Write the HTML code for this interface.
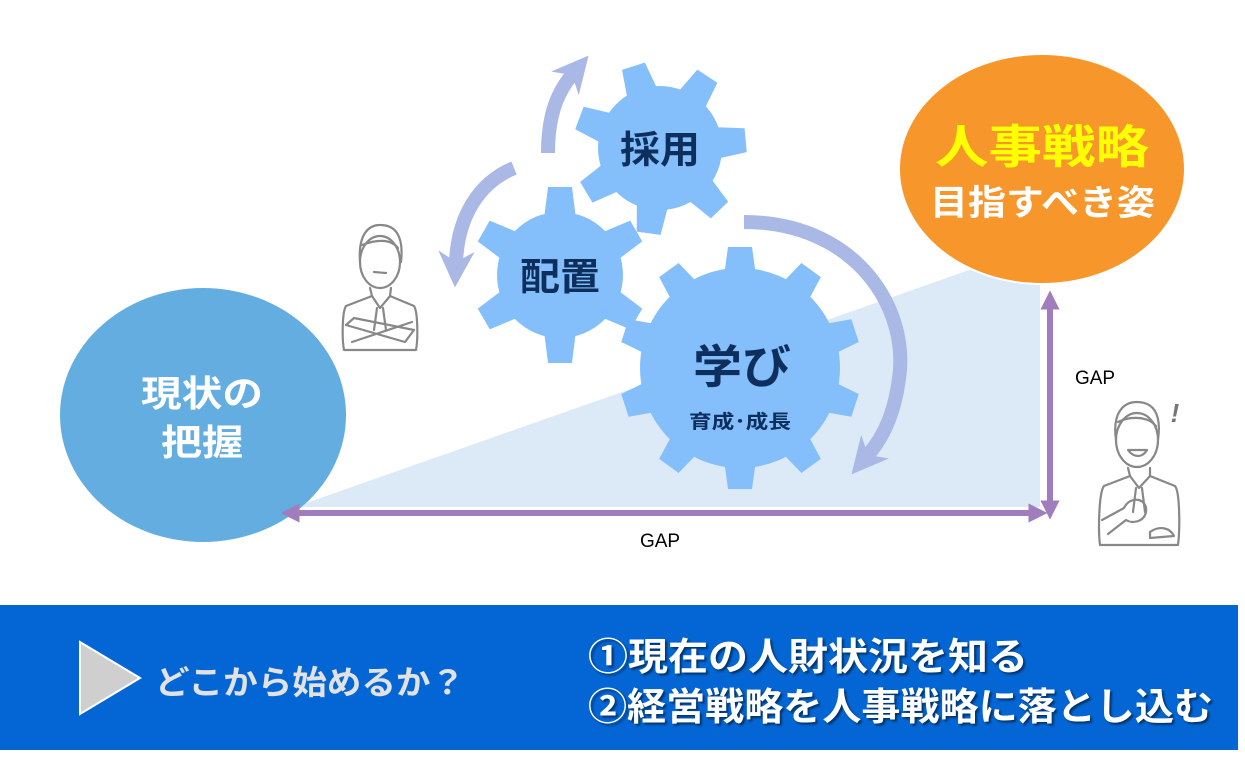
<!DOCTYPE html>
<html><head><meta charset="utf-8"><style>
html,body{margin:0;padding:0;background:#fff}
svg{display:block}
text{font-family:"Liberation Sans","Noto Sans CJK JP",sans-serif;font-weight:bold}
</style></head><body>
<svg width="1245" height="757" viewBox="0 0 1245 757" xmlns="http://www.w3.org/2000/svg">
<defs>
<marker id="ah" viewBox="0 0 10 10" refX="5" refY="5" markerWidth="3.2" markerHeight="3.2" orient="auto-start-reverse"><path d="M0,0 L10,5 L0,10 z" fill="#A07EBD"/></marker>
<marker id="bh" viewBox="0 0 10 10" refX="3" refY="5" markerWidth="2.6" markerHeight="2.6" orient="auto"><path d="M0,0 L10,5 L0,10 L3,5 z" fill="#A9B8E4"/></marker>
</defs>
<polygon points="295,507 1040,507 1040,262 975,268" fill="#DCE9F7"/>
<ellipse cx="203" cy="415" rx="143" ry="127" fill="#63ADE0"/>
<text x="141" y="406" font-size="36" fill="#fff" textLength="122" lengthAdjust="spacingAndGlyphs">現状の</text>
<text x="161" y="455" font-size="36" fill="#fff" textLength="82" lengthAdjust="spacingAndGlyphs">把握</text>
<ellipse cx="1042" cy="169" rx="143" ry="115" fill="#F7962A" stroke="#fff" stroke-width="2"/>
<text x="935" y="163" font-size="46" fill="#FFFF00" textLength="214" lengthAdjust="spacingAndGlyphs">人事戦略</text>
<text x="930" y="215" font-size="35" fill="#fff" textLength="225" lengthAdjust="spacingAndGlyphs">目指すべき姿</text>
<path d="M548,153 C548,120 555,95 572,75" fill="none" stroke="#A9B8E4" stroke-width="14" marker-end="url(#bh)"/>
<path d="M514,168 C480,182 458,215 456,262" fill="none" stroke="#A9B8E4" stroke-width="14" marker-end="url(#bh)"/>
<path d="M744,222 C850,222 905,300 900,370 C896,410 885,435 868,455" fill="none" stroke="#A9B8E4" stroke-width="14" marker-end="url(#bh)"/>
<g fill="#85BFFB">
 <g transform="translate(660,148) rotate(-18)">
  <circle r="62"/>
  <g id="t1"><polygon points="-16,-55 -12,-86 12,-86 16,-55"/></g>
  <use href="#t1" transform="rotate(51.4)"/><use href="#t1" transform="rotate(102.8)"/><use href="#t1" transform="rotate(154.2)"/><use href="#t1" transform="rotate(205.6)"/><use href="#t1" transform="rotate(257)"/><use href="#t1" transform="rotate(308.4)"/>
 </g>
 <g transform="translate(560,275)">
  <circle r="63"/>
  <g id="t2"><polygon points="-16,-56 -12,-88 12,-88 16,-56"/></g>
  <use href="#t2" transform="rotate(60)"/><use href="#t2" transform="rotate(120)"/><use href="#t2" transform="rotate(180)"/><use href="#t2" transform="rotate(240)"/><use href="#t2" transform="rotate(300)"/>
 </g>
 <g transform="translate(740,368)">
  <circle r="100"/>
  <g id="t3"><polygon points="-16,-92 -12,-121 12,-121 16,-92"/></g>
  <use href="#t3" transform="rotate(36)"/><use href="#t3" transform="rotate(72)"/><use href="#t3" transform="rotate(108)"/><use href="#t3" transform="rotate(144)"/><use href="#t3" transform="rotate(180)"/><use href="#t3" transform="rotate(216)"/><use href="#t3" transform="rotate(252)"/><use href="#t3" transform="rotate(288)"/><use href="#t3" transform="rotate(324)"/>
 </g>
</g>
<text x="620" y="163" font-size="38" fill="#0D2F5E" textLength="80" lengthAdjust="spacingAndGlyphs">採用</text>
<text x="520" y="290" font-size="38" fill="#0D2F5E" textLength="80" lengthAdjust="spacingAndGlyphs">配置</text>
<text x="693" y="383" font-size="46" fill="#0D2F5E" textLength="98" lengthAdjust="spacingAndGlyphs">学び</text>
<text x="689" y="428" font-size="19" fill="#0D2F5E" textLength="102" lengthAdjust="spacingAndGlyphs">育成･成長</text>
<line x1="290" y1="513" x2="1038" y2="513" stroke="#A07EBD" stroke-width="6" marker-start="url(#ah)" marker-end="url(#ah)"/>
<line x1="1050" y1="300" x2="1050" y2="510" stroke="#A07EBD" stroke-width="6" marker-start="url(#ah)" marker-end="url(#ah)"/>
<text x="660" y="547" font-size="19" style="font-weight:normal" fill="#000" text-anchor="middle">GAP</text>
<text x="1095" y="384" font-size="19" style="font-weight:normal" fill="#000" text-anchor="middle">GAP</text>
<g fill="none" stroke="#888" stroke-width="2.2" stroke-linejoin="round" stroke-linecap="round">
 <path d="M360,262 C358,235 368,225 380,225 C395,225 404,235 401,262"/>
 <ellipse cx="380" cy="262" rx="20" ry="26"/>
 <path d="M362,245 C375,240 390,238 398,248"/>
 <line x1="374" y1="272" x2="386" y2="273"/>
 <path d="M370,288 L372,296 L346,306 C342,312 342,340 344,350 L416,350 C418,340 418,312 414,306 L390,296 L391,288"/>
 <path d="M372,296 L380,308 L390,296 M377,308 L374,330 M383,308 L386,330"/>
 <path d="M346,325 L405,342 L414,330 L354,318 Z M352,342 L412,322"/>
</g>
<g fill="none" stroke="#888" stroke-width="2.2" stroke-linejoin="round" stroke-linecap="round">
 <ellipse cx="1137" cy="440" rx="21" ry="27"/>
 <path d="M1116,440 C1112,412 1124,402 1137,402 C1152,402 1162,412 1158,440"/>
 <path d="M1118,422 C1130,416 1148,416 1156,426"/>
 <path d="M1128,450 C1134,458 1142,458 1147,450 Z"/>
 <path d="M1128,468 L1130,476 L1104,486 C1099,492 1098,530 1100,545 L1178,545 C1180,530 1180,492 1175,486 L1150,476 L1150,468"/>
 <path d="M1130,476 L1139,488 L1150,476 M1136,488 L1133,512 M1142,488 L1145,512"/>
 <path d="M1102,520 L1124,508 C1130,495 1148,498 1146,512 C1144,522 1132,524 1126,520 L1108,534"/>
 <path d="M1150,532 C1160,525 1170,528 1174,536 L1150,538 Z"/>
</g>
<text x="1175" y="422" font-size="26" fill="#777" font-style="italic" text-anchor="middle">!</text>
<rect x="0" y="605" width="1238" height="145" fill="#0466D4"/>
<polygon points="80,642 140,678 80,714" fill="#CFCFCF" stroke="#fff" stroke-width="2"/>
<text x="155" y="694" font-size="33" fill="#E2E2E2" textLength="310" lengthAdjust="spacingAndGlyphs">どこから始めるか？</text>
<g font-size="38" fill="#fff" style="filter:drop-shadow(2px 2px 1px rgba(0,0,0,0.5))">
<text x="588" y="670" textLength="440" lengthAdjust="spacingAndGlyphs">①現在の人財状況を知る</text>
<text x="588" y="720" textLength="625" lengthAdjust="spacingAndGlyphs">②経営戦略を人事戦略に落とし込む</text>
</g>
</svg>
</body></html>
